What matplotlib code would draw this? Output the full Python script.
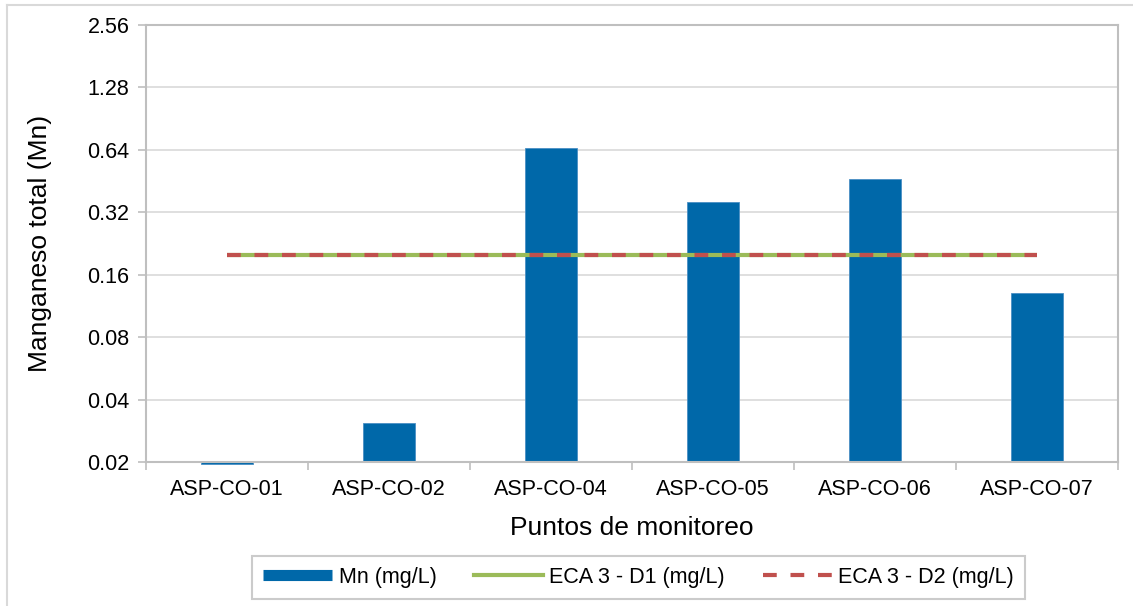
import numpy as np
import matplotlib
matplotlib.use('Agg')
import matplotlib.pyplot as plt
from matplotlib.lines import Line2D

plt.rcParams['font.family'] = ['Liberation Sans', 'DejaVu Sans']

# data
puntos = ['ASP-CO-01', 'ASP-CO-02', 'ASP-CO-04', 'ASP-CO-05', 'ASP-CO-06', 'ASP-CO-07']
mn = [0.0195, 0.031, 0.65, 0.36, 0.465, 0.13]
eca_d1 = [0.2, 0.2, 0.2, 0.2, 0.2, 0.2]
eca_d2 = [0.2, 0.2, 0.2, 0.2, 0.2, 0.2]
yticks = [0.02, 0.04, 0.08, 0.16, 0.32, 0.64, 1.28, 2.56]

ymin, ymax = yticks[0], yticks[-1]
x = np.arange(len(puntos))

fig = plt.figure(figsize=(11.33, 6.06), dpi=100)
ax = fig.add_axes([146/1133, 1-462/606, (1118-146)/1133, (462-25)/606])

grid_c = '#D9D9D9'
axis_c = '#BFBFBF'

ax.set_yscale('log', base=2)
ax.set_ylim(ymin, ymax)
ax.set_xlim(-0.5, len(puntos)-0.5)
ax.set_yticks(yticks)
ax.set_yticklabels([f'{v:.2f}' for v in yticks])
ax.yaxis.set_minor_locator(matplotlib.ticker.NullLocator())
ax.grid(True, axis='y', color=grid_c, lw=1.2, zorder=0)
ax.set_axisbelow(True)

heights = [v - ymin for v in mn]
ax.bar(x, heights, bottom=ymin, width=0.315, color='#0068A9',
       edgecolor='#4A8FC4', linewidth=0.6, zorder=2, clip_on=False)
ax.plot(x, eca_d1, color='#9BBB59', lw=3, zorder=3, solid_capstyle='butt')
ax.plot(x, eca_d2, color='#C0504D', lw=3, dashes=(3.3, 3.3), zorder=4)

ax.set_xticks(x)
ax.set_xticklabels(puntos)
ax.set_xticks(np.arange(-0.5, len(puntos)), minor=True)
ax.tick_params(axis='x', which='major', length=0, pad=12, labelsize=15.5)
ax.tick_params(axis='x', which='minor', length=6, width=1.2, color=axis_c)
ax.tick_params(axis='y', length=6, width=1.2, color=axis_c, labelsize=15.5, pad=6)

for s in ax.spines.values():
    s.set_color(axis_c)
    s.set_linewidth(1.5)

ax.set_ylabel('Manganeso total (Mn)', fontsize=19, labelpad=25)
ax.set_xlabel('Puntos de monitoreo', fontsize=19, labelpad=12)

handles = [Line2D([], [], color='#0068A9', lw=8, solid_capstyle='butt'),
           Line2D([], [], color='#9BBB59', lw=3),
           Line2D([], [], color='#C0504D', lw=3, dashes=(3.3, 3.3))]
labels = ['Mn (mg/L)', 'ECA 3 - D1 (mg/L)', 'ECA 3 - D2 (mg/L)']
leg = fig.legend(handles, labels, loc='center', bbox_to_anchor=(638.5/1133, 1-577.5/606),
                 ncol=3, fontsize=15.5, handlelength=3.2, handletextpad=0.3,
                 columnspacing=1.75, frameon=True, fancybox=False,
                 borderpad=0.5, borderaxespad=0)
leg.get_frame().set_edgecolor(axis_c)
leg.get_frame().set_linewidth(1.5)

# outer chart border
fig.add_artist(Line2D([7/1133, 7/1133], [0, 1-5/606], color=grid_c, lw=1.5))
fig.add_artist(Line2D([7/1133, 1], [1-5/606, 1-5/606], color=grid_c, lw=1.5))

fig.savefig('out.png', dpi=100)
